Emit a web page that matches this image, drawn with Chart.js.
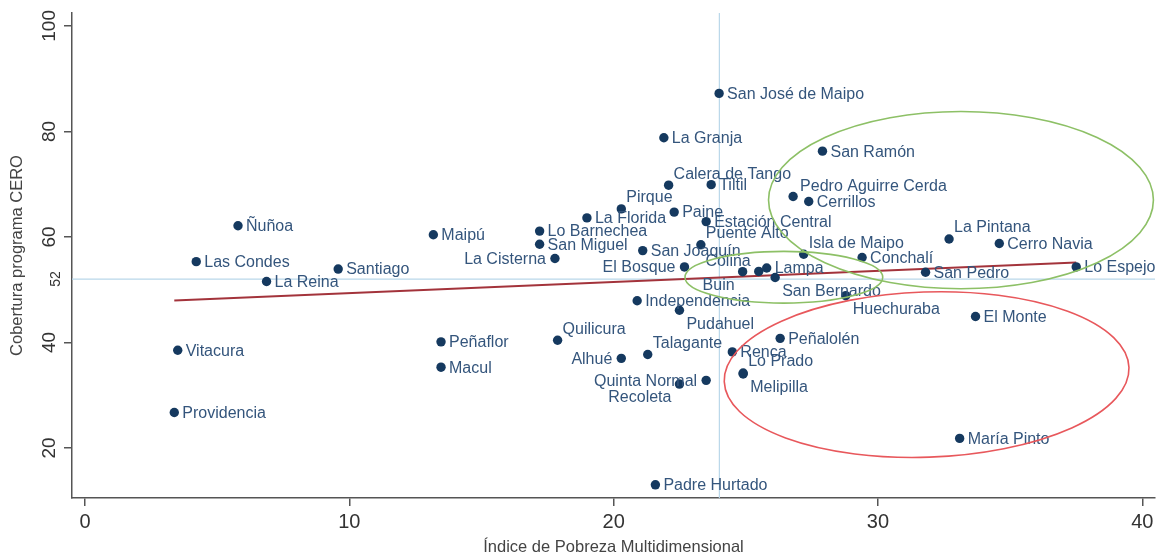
<!DOCTYPE html>
<html>
<head>
<meta charset="utf-8">
<script src="https://cdn.jsdelivr.net/npm/chart.js@4.4.0/dist/chart.umd.min.js"></script>
<style>
  html, body { margin: 0; padding: 0; background: #fff; }
</style>
</head>
<body>
<canvas id="chart" width="1166" height="558"></canvas>
<script>
// comunas, IPM (x) and cobertura programa CERO (y)
const comunas = ["Providencia", "Vitacura", "Las Condes", "Ñuñoa", "La Reina", "Santiago", "Maipú",
  "Peñaflor", "Macul", "Lo Barnechea", "San Miguel", "La Cisterna", "Quilicura", "La Florida", "Pirque",
  "Alhué", "Independencia", "San Joaquín", "Talagante", "Padre Hurtado", "La Granja", "Calera de Tango",
  "Paine", "Pudahuel", "Recoleta", "El Bosque", "Puente Alto", "Estación Central", "Quinta Normal",
  "Tiltil", "San José de Maipo", "Renca", "Buin", "Lo Prado", "Melipilla", "Colina", "Lampa",
  "San Bernardo", "Peñalolén", "Pedro Aguirre Cerda", "Isla de Maipo", "Cerrillos", "San Ramón",
  "Huechuraba", "Conchalí", "San Pedro", "La Pintana", "María Pinto", "El Monte", "Cerro Navia", "Lo Espejo"];
const ipm = [3.38, 3.51, 4.21, 5.79, 6.87, 9.58, 13.18,
  13.47, 13.47, 17.2, 17.2, 17.78, 17.88, 18.99, 20.29,
  20.29, 20.89, 21.1, 21.29, 21.58, 21.9, 22.08,
  22.29, 22.49, 22.49, 22.68, 23.3, 23.5, 23.5,
  23.69, 23.99, 24.49, 24.88, 24.9, 24.9, 25.49, 25.79,
  26.11, 26.3, 26.79, 27.19, 27.38, 27.9,
  28.78, 29.4, 31.8, 32.69, 33.09, 33.69, 34.59, 37.5];
const cobertura = [26.7, 38.5, 55.3, 62.1, 51.55, 53.9, 60.4,
  40.1, 35.3, 61.1, 58.6, 55.9, 40.4, 63.6, 65.3,
  36.97, 47.9, 57.4, 37.7, 13.0, 78.8, 69.8,
  64.7, 46.1, 32.1, 54.3, 58.5, 62.9, 32.8,
  69.9, 87.2, 38.2, 53.4, 34.2, 34.0, 53.45, 54.1,
  52.3, 40.76, 67.65, 56.7, 66.7, 76.25,
  48.85, 56.1, 53.3, 59.6, 21.8, 44.9, 58.75, 54.3];
// marker label clock position (like Stata mlabvposition)
const labelPos = [3, 3, 3, 3, 3, 3, 3,
  3, 3, 3, 3, 9, 1, 3, 1,
  9, 3, 3, 1, 3, 3, 1,
  3, 5, 7, 9, 1, 3, 9,
  3, 3, 3, 7, 1, 5, 11, 3,
  5, 3, 2, 1, 3, 3,
  5, 3, 3, 1, 3, 3, 3, 3];

const xTicks = [0, 10, 20, 30, 40];
const yTicks = [20, 40, 52, 60, 80, 100];
const xRange = [-0.49, 40.48];
const yRange = [10.5, 102.44];
const refX = 24;
const refY = 52;
const fitX = [3.38, 37.5];
const fitY = [47.95, 55.15];

// highlighted groups: centre and half axes in data units
const ellipses = [
  { cx: 33.14, cy: 66.97, rx: 7.28, ry: 16.8, rot: 0, color: "#8dc066" },
  { cx: 26.44, cy: 52.35, rx: 3.74, ry: 4.9, rot: 0, color: "#8dc066" },
  { cx: 31.84, cy: 33.9, rx: 7.66, ry: 15.66, rot: -2, color: "#e8585c" }
];

const FONT = "'Liberation Sans', Arial, sans-serif";

const offsets = {
  3: [8, 1, "left"], 1: [5, -11, "left"], 2: [7, -10, "left"], 5: [7, 14, "left"],
  9: [-9, 1, "right"], 11: [-8, -10, "right"], 7: [-8, 14, "right"]
};

const extras = {
  id: "extras",
  afterDatasetsDraw(chart) {
    const ctx = chart.ctx;
    const xs = chart.scales.x, ys = chart.scales.y;
    const meta = chart.getDatasetMeta(0);

    // marker labels
    ctx.save();
    ctx.font = "16px " + FONT;
    ctx.fillStyle = "#34557c";
    ctx.textBaseline = "middle";
    meta.data.forEach((pt, i) => {
      const o = offsets[labelPos[i]];
      ctx.textAlign = o[2];
      ctx.fillText(comunas[i], pt.x + o[0], pt.y + o[1]);
    });
    ctx.restore();

    // ellipses
    ctx.save();
    ctx.lineWidth = 1.6;
    ellipses.forEach(e => {
      const px = xs.getPixelForValue(e.cx), py = ys.getPixelForValue(e.cy);
      const rx = Math.abs(xs.getPixelForValue(e.cx + e.rx) - px);
      const ry = Math.abs(ys.getPixelForValue(e.cy + e.ry) - py);
      ctx.strokeStyle = e.color;
      ctx.beginPath();
      ctx.ellipse(px, py, rx, ry, e.rot * Math.PI / 180, 0, 2 * Math.PI);
      ctx.stroke();
    });
    ctx.restore();
  },
  afterDraw(chart) {
    // rotated y tick labels, as in the original
    const ctx = chart.ctx;
    const ys = chart.scales.y;
    ctx.save();
    ctx.fillStyle = "#333";
    ctx.textAlign = "center";
    ctx.textBaseline = "alphabetic";
    yTicks.forEach(v => {
      const small = v === refY;
      ctx.font = (small ? "14px " : "19px ") + FONT;
      ctx.save();
      ctx.translate(small ? 60 : 55, ys.getPixelForValue(v));
      ctx.rotate(-Math.PI / 2);
      ctx.fillText(String(v), 0, 0);
      ctx.restore();
    });
    ctx.restore();
  }
};

new Chart(document.getElementById("chart").getContext("2d"), {
  type: "scatter",
  data: {
    datasets: [
      {
        data: comunas.map((c, i) => ({ x: ipm[i], y: cobertura[i] })),
        pointRadius: 4.7,
        pointHoverRadius: 4.7,
        backgroundColor: "#15395f",
        borderWidth: 0
      },
      {
        data: fitX.map((x, i) => ({ x: x, y: fitY[i] })),
        showLine: true,
        borderColor: "#a3333b",
        borderWidth: 2,
        pointRadius: 0
      },
      {
        data: [{ x: refX, y: yRange[0] }, { x: refX, y: yRange[1] }],
        showLine: true,
        borderColor: "#b9d7ea",
        borderWidth: 1.2,
        pointRadius: 0
      },
      {
        data: [{ x: xRange[0], y: refY }, { x: xRange[1], y: refY }],
        showLine: true,
        borderColor: "#b9d7ea",
        borderWidth: 1.2,
        pointRadius: 0
      }
    ]
  },
  options: {
    responsive: false,
    animation: false,
    layout: { padding: { left: 0, right: 11, top: 13, bottom: 0 } },
    plugins: {
      legend: { display: false },
      tooltip: { enabled: false }
    },
    scales: {
      x: {
        type: "linear",
        min: xRange[0],
        max: xRange[1],
        afterBuildTicks: s => { s.ticks = xTicks.map(v => ({ value: v })); },
        afterFit: s => { s.height = 60; },
        grid: { drawOnChartArea: false, drawTicks: true, tickLength: 8, color: "#555", lineWidth: 1.5 },
        border: { color: "#555", width: 1.5 },
        ticks: { font: { size: 20, family: FONT }, color: "#333", padding: 4, maxRotation: 0 },
        title: {
          display: true,
          text: "Índice de Pobreza Multidimensional",
          font: { size: 16.5, family: FONT },
          color: "#444",
          padding: { top: 0, bottom: 1 }
        }
      },
      y: {
        type: "linear",
        min: yRange[0],
        max: yRange[1],
        afterBuildTicks: s => { s.ticks = yTicks.map(v => ({ value: v })); },
        afterFit: s => { s.width = 72; },
        grid: {
          drawOnChartArea: false, drawTicks: true, tickLength: 8, lineWidth: 1.5,
          color: c => (c.tick && c.tick.value === refY ? "rgba(0,0,0,0)" : "#555")
        },
        border: { color: "#555", width: 1.5 },
        ticks: { display: false },
        title: {
          display: true,
          text: "Cobertura programa CERO",
          font: { size: 16.5, family: FONT },
          color: "#444",
          padding: { top: 8, bottom: 0 }
        }
      }
    }
  },
  plugins: [extras]
});
</script>
</body>
</html>
